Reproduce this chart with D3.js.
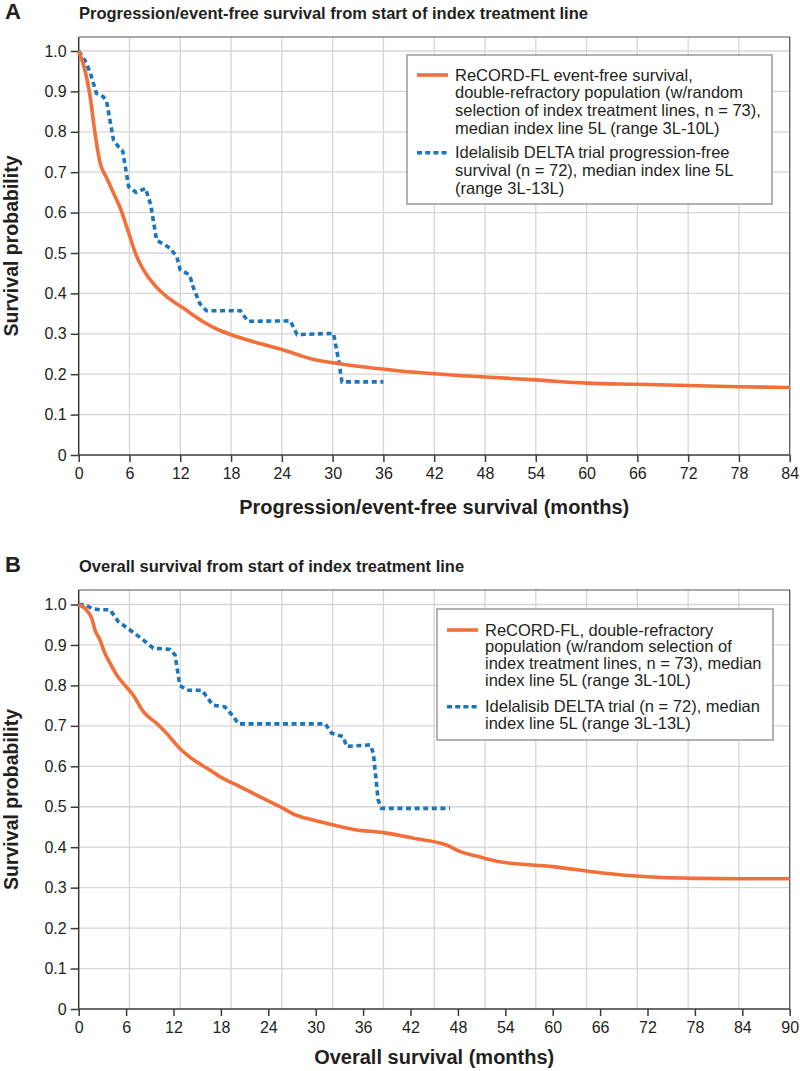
<!DOCTYPE html>
<html><head><meta charset="utf-8">
<script src="https://cdn.jsdelivr.net/npm/d3@7/dist/d3.min.js"></script>
<style>
html,body{margin:0;padding:0;background:#fff;}
svg text{font-family:"Liberation Sans",Arial,Helvetica,sans-serif;fill:#231f20;}
</style></head>
<body>
<svg id="chart" width="800" height="1071"></svg>
<script>
// ---------- DATA ----------
// Panel A: progression/event-free survival
const efsMonths = [0,0.5,1.0,1.35,1.9,2.5,3.3,4.3,4.9,5.5,6.06,6.6,7.24,8.0,9.0,10.4,12.4,14.7,16.5,18.1,21.4,24.2,27.3,30.5,34.0,38,42,48,54,60,66,72,78,84];
const efsSurv   = [1.0,0.97,0.928,0.887,0.80,0.725,0.686,0.640,0.612,0.575,0.54,0.505,0.474,0.447,0.42,0.392,0.363,0.33,0.31,0.297,0.276,0.26,0.239,0.227,0.217,0.208,0.201,0.193,0.186,0.178,0.175,0.172,0.169,0.167];
const pfsMonths = [0,0.7,1.3,2.1,2.9,3.3,4.1,4.7,5.2,5.9,6.8,7.9,8.5,9.2,10.8,11.6,12.0,13.1,13.5,14.3,15.1,19.1,20.0,25.0,25.8,30.1,30.7,31.1,36.0];
const pfsSurv   = [1.0,0.978,0.95,0.895,0.887,0.875,0.78,0.763,0.752,0.664,0.65,0.66,0.62,0.532,0.512,0.49,0.458,0.446,0.417,0.375,0.357,0.357,0.331,0.332,0.298,0.301,0.235,0.181,0.181];
// Panel B: overall survival
const osRecordMonths = [0,1.0,1.64,2.06,2.7,3.33,3.96,4.8,5.86,6.9,8.18,9.87,11.1,12.8,14.9,16.6,17.9,20.4,22.9,25.5,27.2,29.7,32.2,34.8,38.6,42.4,46.6,48.3,50.4,53.3,60,66,72,78,84,90];
const osRecordSurv   = [1.0,0.986,0.966,0.937,0.912,0.879,0.855,0.826,0.80,0.776,0.735,0.706,0.682,0.644,0.611,0.591,0.574,0.55,0.525,0.50,0.482,0.467,0.455,0.444,0.436,0.422,0.405,0.389,0.378,0.364,0.352,0.337,0.327,0.323,0.322,0.322];
const osDeltaMonths = [0,0.8,1.64,2.7,3.96,5.0,6.5,8.2,9.44,11.56,12.2,12.8,13.7,15.6,16.2,17.0,18.5,19.6,20.2,31.2,32.0,33.5,33.9,36.9,37.3,37.9,38.35,47.0];
const osDeltaSurv   = [1.0,1.0,0.99,0.987,0.987,0.958,0.937,0.912,0.892,0.889,0.875,0.80,0.788,0.788,0.772,0.751,0.747,0.723,0.705,0.705,0.682,0.673,0.649,0.653,0.632,0.517,0.496,0.496];

const yTicks = [0,0.1,0.2,0.3,0.4,0.5,0.6,0.7,0.8,0.9,1.0];
const yTickLabels = ["0","0.1","0.2","0.3","0.4","0.5","0.6","0.7","0.8","0.9","1.0"];
const xTicksA = [0,6,12,18,24,30,36,42,48,54,60,66,72,78,84];
const xTicksB = [0,6,12,18,24,30,36,42,48,54,60,66,72,78,84,90];

const legendA = [
  ["ReCORD-FL event-free survival,","double-refractory population (w/random","selection of index treatment lines, n = 73),","median index line 5L (range 3L-10L)"],
  ["Idelalisib DELTA trial progression-free","survival (n = 72), median index line 5L","(range 3L-13L)"]
];
const legendB = [
  ["ReCORD-FL, double-refractory","population (w/random selection of","index treatment lines, n = 73), median","index line 5L (range 3L-10L)"],
  ["Idelalisib DELTA trial (n = 72), median","index line 5L (range 3L-13L)"]
];

// ---------- STYLE ----------
const ORANGE = "#f26f3a", BLUE = "#1b75bb", GRID = "#d6d6d6", AXIS = "#3a3a3a";
const svg = d3.select("#chart");
const X0 = 78.7, X1 = 789.7;

function panel(cfg){
  const g = svg.append("g");
  const x = d3.scaleLinear().domain([0, cfg.xMax]).range([X0, X1]);
  const y = d3.scaleLinear().domain([0, 1]).range([cfg.y0, cfg.y1]);
  const top = cfg.top;
  // gridlines (vertical grid follows a 14-division spacing in both panels)
  const gx = d3.scaleLinear().domain([0, 14]).range([X0, X1]);
  g.selectAll(".vg").data(d3.range(1,15)).enter().append("line")
    .attr("x1", d=>gx(d)).attr("x2", d=>gx(d)).attr("y1", top).attr("y2", cfg.y0)
    .attr("stroke", GRID).attr("stroke-width", 1.3);
  g.selectAll(".hg").data(yTicks.slice(1)).enter().append("line")
    .attr("x1", X0).attr("x2", X1).attr("y1", d=>y(d)).attr("y2", d=>y(d))
    .attr("stroke", GRID).attr("stroke-width", 1.3);
  // frame top/right
  g.append("path").attr("d", `M${X0},${top}H${X1}V${cfg.y0}`).attr("fill","none")
    .attr("stroke", "#555").attr("stroke-width", 1.2);
  // axes
  const ya = d3.axisLeft(y).tickValues(yTicks).tickSize(8).tickPadding(4)
    .tickFormat((d,i)=>yTickLabels[i]);
  const yg = g.append("g").attr("transform", `translate(${X0},0)`).call(ya);
  yg.select(".domain").attr("d", `M0,${top}V${cfg.y0}`);
  const xa = d3.axisBottom(x).tickValues(cfg.xTicks).tickSize(7).tickPadding(6).tickFormat(d3.format("d"));
  const xg = g.append("g").attr("transform", `translate(0,${cfg.y0})`).call(xa);
  xg.select(".domain").attr("d", `M${X0},0H${X1}`);
  [yg, xg].forEach(a=>{
    a.selectAll(".domain,.tick line").attr("stroke", AXIS).attr("stroke-width", 1.5);
    a.selectAll("text").attr("font-size", 16).attr("fill", "#231f20")
      .style("font-family", '"Liberation Sans",Arial,sans-serif');
  });
  // curves
  const lineO = d3.line().x(d=>x(d[0])).y(d=>y(d[1])).curve(d3.curveMonotoneX);
  const lineB = d3.line().x(d=>x(d[0])).y(d=>y(d[1]));
  g.append("path").datum(d3.zip(cfg.bMonths, cfg.bSurv)).attr("d", lineB)
    .attr("fill","none").attr("stroke", BLUE).attr("stroke-width", 3.6).attr("stroke-dasharray","5,3.6");
  g.append("path").datum(d3.zip(cfg.oMonths, cfg.oSurv)).attr("d", lineO)
    .attr("fill","none").attr("stroke", ORANGE).attr("stroke-width", 3.6).attr("stroke-linejoin","round");
  // labels
  g.append("text").attr("x", 5).attr("y", cfg.titleY).attr("font-size", 22).attr("font-weight","bold").text(cfg.letter);
  g.append("text").attr("x", 79).attr("y", cfg.titleY).attr("font-size", 16.5).attr("font-weight","bold").text(cfg.title);
  g.append("text").attr("x", (X0+X1)/2).attr("y", cfg.xTitleY).attr("text-anchor","middle")
    .attr("font-size", 20).attr("font-weight","bold").text(cfg.xTitle);
  g.append("text").attr("transform", `translate(18,${(top+cfg.y0)/2}) rotate(-90)`).attr("text-anchor","middle")
    .attr("font-size", 19.5).attr("font-weight","bold").text("Survival probability");
  // legend
  const L = cfg.legend;
  g.append("rect").attr("x", L.x).attr("y", L.y).attr("width", L.w).attr("height", L.h)
    .attr("fill","#fff").attr("stroke","#9a9a9a").attr("stroke-width",1.5);
  let by = L.firstBase;
  cfg.legendText.forEach((lines, k)=>{
    const ly = by - 5.5;
    g.append("line").attr("x1", L.x + L.lineX0).attr("x2", L.x + L.lineX0 + 31).attr("y1", ly).attr("y2", ly)
      .attr("stroke", k===0 ? ORANGE : BLUE).attr("stroke-width", 3.6)
      .attr("stroke-dasharray", k===0 ? null : "5,3.2");
    lines.forEach((t,i)=>{
      g.append("text").attr("x", L.x + L.textX).attr("y", by + i*L.lh).attr("font-size", 16.5).text(t);
    });
    by += lines.length*L.lh + L.gap;
  });
}

panel({
  letter:"A", title:"Progression/event-free survival from start of index treatment line",
  xTitle:"Progression/event-free survival (months)", titleY:18.5, xTitleY:514,
  xMax:84, xTicks:xTicksA, y0:455, y1:51, top:37,
  oMonths:efsMonths, oSurv:efsSurv, bMonths:pfsMonths, bSurv:pfsSurv,
  legend:{x:407, y:55, w:365, h:149, lineX0:10, textX:48, firstBase:80.5, lh:17.8, gap:6.5},
  legendText:legendA
});
panel({
  letter:"B", title:"Overall survival from start of index treatment line",
  xTitle:"Overall survival (months)", titleY:572, xTitleY:1064,
  xMax:90, xTicks:xTicksB, y0:1009, y1:604.5, top:590,
  oMonths:osRecordMonths, oSurv:osRecordSurv, bMonths:osDeltaMonths, bSurv:osDeltaSurv,
  legend:{x:437, y:609, w:336, h:131, lineX0:10, textX:48, firstBase:635.5, lh:16.8, gap:9.5},
  legendText:legendB
});
</script>
</body></html>
